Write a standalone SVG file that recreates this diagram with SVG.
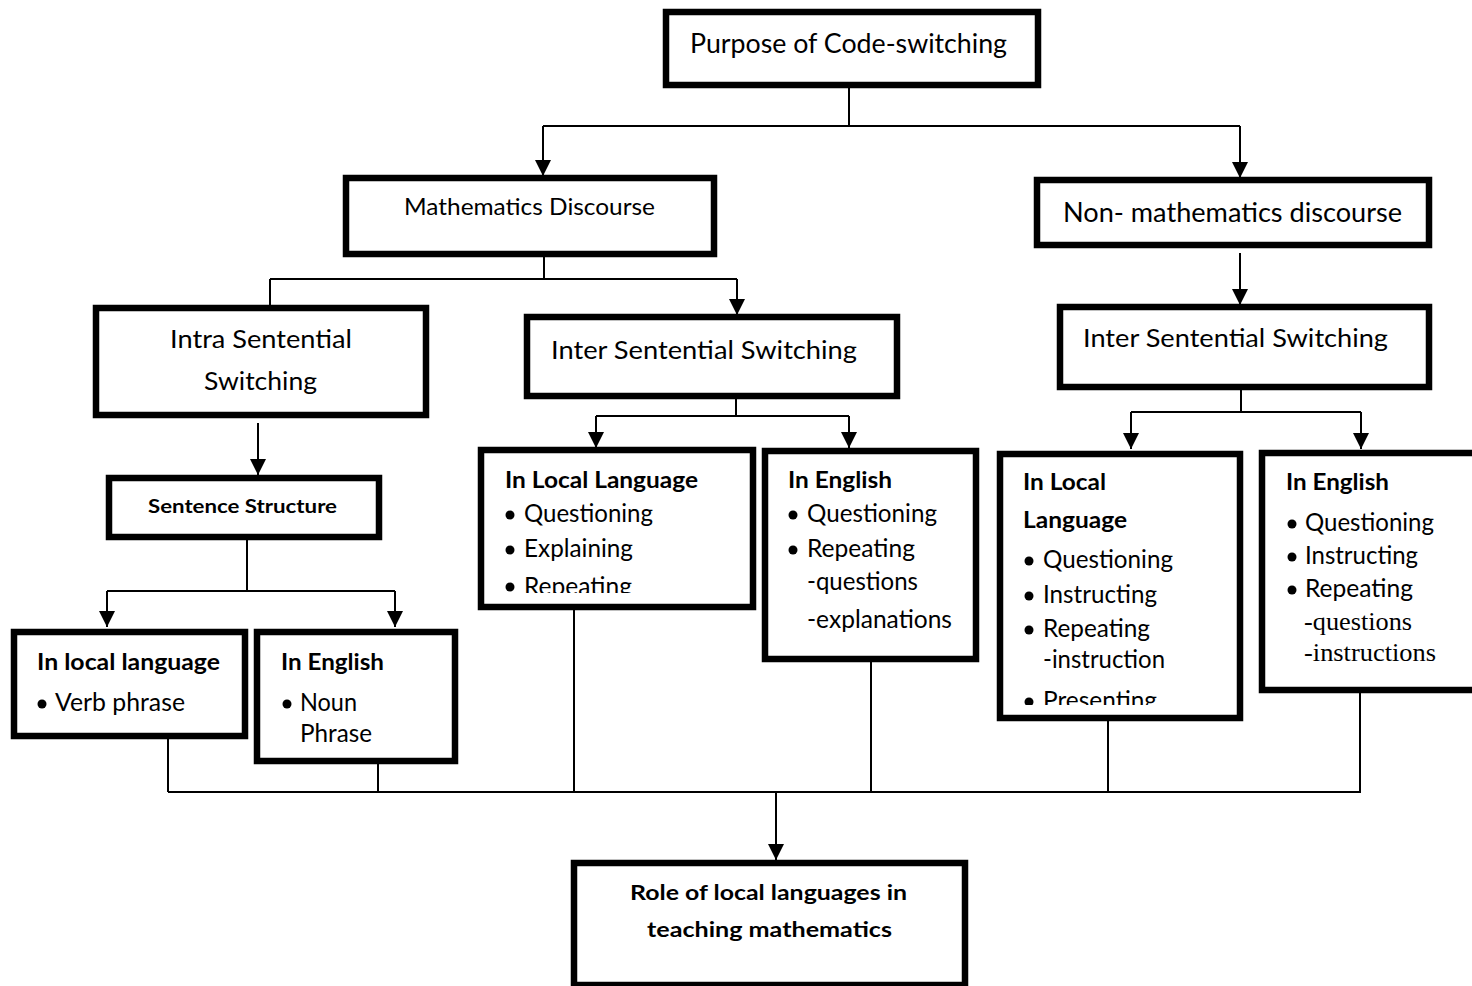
<svg xmlns="http://www.w3.org/2000/svg" width="1472" height="986" viewBox="0 0 1472 986">
  <style>
    .box { fill: #fff; stroke: #000; stroke-width: 6.5; }
    .t { font-family: Lato, "Liberation Sans", sans-serif; fill: #000; }
    .r { font-size: 25px; }
    .b { font-size: 22px; font-weight: bold; }
    .s { font-family: "Liberation Serif", "Times New Roman", serif; font-size: 25px; fill: #000; }
    .ln { fill: none; stroke: #000; stroke-width: 2; }
    .arr { fill: none; stroke: #000; stroke-width: 2; marker-end: url(#head); }
    .dot { fill: #000; }
  </style>
  <defs>
    <marker id="head" markerUnits="userSpaceOnUse" markerWidth="16" markerHeight="16" refX="16" refY="8" orient="auto">
      <path d="M0,0 L16,8 L0,16 Z" fill="#000"/>
    </marker>
    <clipPath id="clipMidLocal"><rect x="484" y="453" width="266" height="140"/></clipPath>
    <clipPath id="clipRightLocal"><rect x="1003" y="457" width="234" height="248"/></clipPath>
  </defs>
  <rect width="1472" height="986" fill="#fff"/>

  <!-- connectors -->
  <g id="connectors">
    <path class="ln" d="M849 88 V126 M543 126 H1240"/>
    <path class="arr" d="M543 126 V176"/>
    <path class="arr" d="M1240 126 V178"/>

    <path class="ln" d="M544 244 V279 M270 279 H737"/>
    <path class="arr" d="M270 279 V322"/>
    <path class="arr" d="M737 279 V315"/>

    <path class="arr" d="M1240 253 V305"/>

    <path class="ln" d="M1241 390 V412 M1131 412 H1361"/>
    <path class="arr" d="M1131 412 V449"/>
    <path class="arr" d="M1361 412 V449"/>

    <path class="ln" d="M736 399 V416 M596 416 H849"/>
    <path class="arr" d="M596 416 V448"/>
    <path class="arr" d="M849 416 V448"/>

    <path class="arr" d="M258 423 V475"/>

    <path class="ln" d="M247 540 V591 M107 591 H395"/>
    <path class="arr" d="M107 591 V627"/>
    <path class="arr" d="M395 591 V627"/>

    <path class="ln" d="M168 739 V792 M378 764 V792 M574 610 V792 M871 662 V792 M1108 721 V792 M1360 693 V792 M168 792 H1361"/>
    <path class="arr" d="M776 792 V860"/>
  </g>

  <!-- top level -->
  <g id="purpose">
    <rect class="box" x="666" y="12" width="372" height="73"/>
    <text class="t" x="690" y="53" font-size="26" textLength="317" lengthAdjust="spacingAndGlyphs">Purpose of Code-switching</text>
  </g>

  <g id="math-discourse">
    <rect class="box" x="346" y="178" width="368" height="76"/>
    <text class="t" x="404" y="215" font-size="22.5" textLength="251" lengthAdjust="spacingAndGlyphs">Mathematics Discourse</text>
  </g>

  <g id="non-math-discourse">
    <rect class="box" x="1037" y="180" width="392" height="65"/>
    <text class="t" x="1063" y="222" font-size="26" textLength="339" lengthAdjust="spacingAndGlyphs">Non- mathematics discourse</text>
  </g>

  <!-- second level -->
  <g id="intra-sentential">
    <rect class="box" x="96" y="308" width="330" height="107"/>
    <text class="t" x="170" y="348" font-size="25" textLength="182" lengthAdjust="spacingAndGlyphs">Intra Sentential</text>
    <text class="t" x="204" y="390" font-size="25" textLength="113" lengthAdjust="spacingAndGlyphs">Switching</text>
  </g>

  <g id="inter-sentential-math">
    <rect class="box" x="527" y="317" width="370" height="79"/>
    <text class="t" x="551" y="359" font-size="25.5" textLength="306" lengthAdjust="spacingAndGlyphs">Inter Sentential Switching</text>
  </g>

  <g id="inter-sentential-nonmath">
    <rect class="box" x="1060" y="307" width="369" height="80"/>
    <text class="t" x="1083" y="347" font-size="25.5" textLength="305" lengthAdjust="spacingAndGlyphs">Inter Sentential Switching</text>
  </g>

  <g id="sentence-structure">
    <rect class="box" x="109" y="478" width="270" height="59"/>
    <text class="t" x="148" y="513" font-size="19.5" font-weight="bold" textLength="189" lengthAdjust="spacingAndGlyphs">Sentence Structure</text>
  </g>

  <!-- intra sentential leaves -->
  <g id="intra-local">
    <rect class="box" x="14" y="632" width="231" height="104"/>
    <text class="t b" x="37" y="670" textLength="183" lengthAdjust="spacingAndGlyphs">In local language</text>
    <circle class="dot" cx="42" cy="704" r="4.5"/>
    <text class="t r" x="55" y="711" textLength="130" lengthAdjust="spacingAndGlyphs">Verb phrase</text>
  </g>

  <g id="intra-english">
    <rect class="box" x="257" y="632" width="198" height="129"/>
    <text class="t b" x="281" y="670" textLength="103" lengthAdjust="spacingAndGlyphs">In English</text>
    <circle class="dot" cx="287" cy="704" r="4.5"/>
    <text class="t r" x="300" y="711" textLength="57" lengthAdjust="spacingAndGlyphs">Noun</text>
    <text class="t r" x="300" y="742" textLength="72" lengthAdjust="spacingAndGlyphs">Phrase</text>
  </g>

  <!-- inter sentential (mathematics) leaves -->
  <g id="inter-math-local">
    <rect class="box" x="481" y="450" width="272" height="157"/>
    <text class="t b" x="505" y="488" textLength="193" lengthAdjust="spacingAndGlyphs">In Local Language</text>
    <circle class="dot" cx="510" cy="515" r="4.5"/>
    <text class="t r" x="524" y="522" textLength="129" lengthAdjust="spacingAndGlyphs">Questioning</text>
    <circle class="dot" cx="510" cy="550" r="4.5"/>
    <text class="t r" x="524" y="557" textLength="109" lengthAdjust="spacingAndGlyphs">Explaining</text>
    <g clip-path="url(#clipMidLocal)">
      <circle class="dot" cx="510" cy="587" r="4.5"/>
      <text class="t r" x="524" y="595" textLength="108" lengthAdjust="spacingAndGlyphs">Repeating</text>
    </g>
  </g>

  <g id="inter-math-english">
    <rect class="box" x="765" y="451" width="211" height="208"/>
    <text class="t b" x="788" y="488" textLength="104" lengthAdjust="spacingAndGlyphs">In English</text>
    <circle class="dot" cx="793" cy="515" r="4.5"/>
    <text class="t r" x="807" y="522" textLength="130" lengthAdjust="spacingAndGlyphs">Questioning</text>
    <circle class="dot" cx="793" cy="550" r="4.5"/>
    <text class="t r" x="807" y="557" textLength="108" lengthAdjust="spacingAndGlyphs">Repeating</text>
    <text class="t r" x="807" y="590" textLength="111" lengthAdjust="spacingAndGlyphs">-questions</text>
    <text class="t r" x="807" y="628" textLength="145" lengthAdjust="spacingAndGlyphs">-explanations</text>
  </g>

  <!-- inter sentential (non-mathematics) leaves -->
  <g id="inter-nonmath-local">
    <rect class="box" x="1000" y="454" width="240" height="264"/>
    <text class="t b" x="1023" y="490" textLength="83" lengthAdjust="spacingAndGlyphs">In Local</text>
    <text class="t b" x="1023" y="528" textLength="104" lengthAdjust="spacingAndGlyphs">Language</text>
    <circle class="dot" cx="1029" cy="561" r="4.5"/>
    <text class="t r" x="1043" y="568" textLength="130" lengthAdjust="spacingAndGlyphs">Questioning</text>
    <circle class="dot" cx="1029" cy="596" r="4.5"/>
    <text class="t r" x="1043" y="603" textLength="114" lengthAdjust="spacingAndGlyphs">Instructing</text>
    <circle class="dot" cx="1029" cy="630" r="4.5"/>
    <text class="t r" x="1043" y="637" textLength="107" lengthAdjust="spacingAndGlyphs">Repeating</text>
    <text class="t r" x="1043" y="668" textLength="122" lengthAdjust="spacingAndGlyphs">-instruction</text>
    <g clip-path="url(#clipRightLocal)">
      <circle class="dot" cx="1029" cy="702" r="4.5"/>
      <text class="t r" x="1043" y="709" textLength="114" lengthAdjust="spacingAndGlyphs">Presenting</text>
    </g>
  </g>

  <g id="inter-nonmath-english">
    <rect class="box" x="1262" y="453" width="220" height="237"/>
    <text class="t b" x="1286" y="490" textLength="103" lengthAdjust="spacingAndGlyphs">In English</text>
    <circle class="dot" cx="1292" cy="524" r="4.5"/>
    <text class="t r" x="1305" y="531" textLength="129" lengthAdjust="spacingAndGlyphs">Questioning</text>
    <circle class="dot" cx="1292" cy="557" r="4.5"/>
    <text class="t r" x="1305" y="564" textLength="113" lengthAdjust="spacingAndGlyphs">Instructing</text>
    <circle class="dot" cx="1292" cy="590" r="4.5"/>
    <text class="t r" x="1305" y="597" textLength="108" lengthAdjust="spacingAndGlyphs">Repeating</text>
    <text class="s" x="1304" y="630" textLength="108" lengthAdjust="spacingAndGlyphs">-questions</text>
    <text class="s" x="1304" y="661" textLength="132" lengthAdjust="spacingAndGlyphs">-instructions</text>
  </g>

  <!-- outcome -->
  <g id="role-local-languages">
    <rect class="box" x="574" y="863" width="391" height="122"/>
    <text class="t" x="630" y="900" font-size="21.5" font-weight="bold" textLength="277" lengthAdjust="spacingAndGlyphs">Role of local languages in</text>
    <text class="t" x="647" y="937" font-size="21.5" font-weight="bold" textLength="245" lengthAdjust="spacingAndGlyphs">teaching mathematics</text>
  </g>
</svg>
